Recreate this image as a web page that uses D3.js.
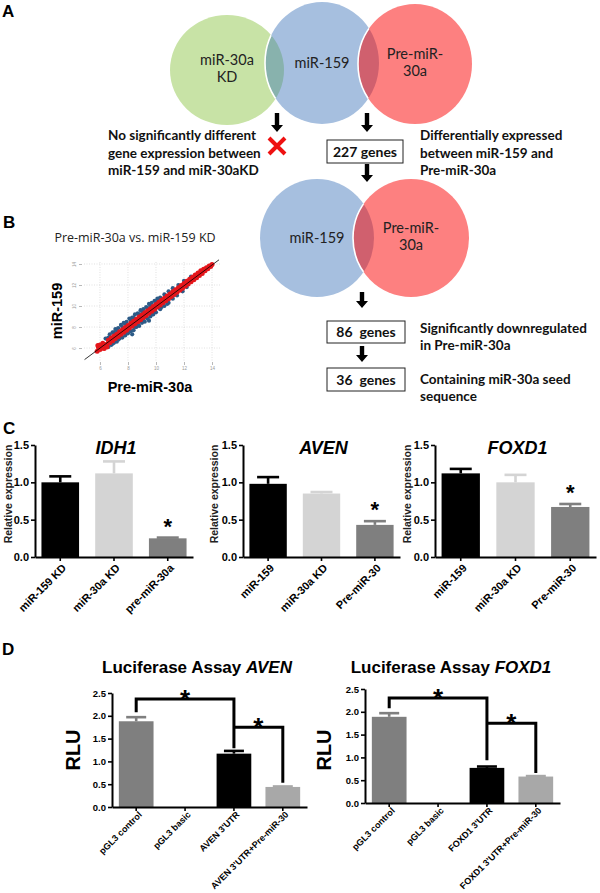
<!DOCTYPE html>
<html><head><meta charset="utf-8">
<script src="https://cdn.jsdelivr.net/npm/d3@7"></script>
<style>body{margin:0;background:#fff}svg{display:block}</style>
</head><body>
<svg id="fig" width="600" height="893"></svg>
<script>
// ---------------- DATA ----------------
const vennTopLabels = [["miR-30a","KD"],["miR-159"],["Pre-miR-","30a"]];
const vennBottomLabels = [["miR-159"],["Pre-miR-","30a"]];
const geneCounts = ["227 genes","86  genes","36  genes"];
const leftNote = ["No significantly different","gene expression between","miR-159 and miR-30aKD"];
const rightNote1 = ["Differentially expressed","between miR-159 and","Pre-miR-30a"];
const rightNote2 = ["Significantly downregulated","in Pre-miR-30a"];
const rightNote3 = ["Containing miR-30a seed","sequence"];

const scatterTitle = "Pre-miR-30a vs. miR-159 KD";
const scatterTicks = [6,8,10,12,14];
const diagLine = [[4.9,4.9],[14.5,14.4]];
const scatterBlue = [
 [6.4,6.9],[6.7,7.3],[6.9,7.5],[7.1,7.8],[7.3,7.9],[7.5,8.2],[7.7,8.4],[7.9,8.5],[8.1,8.8],[8.3,8.9],
 [8.5,9.2],[8.7,9.3],[8.9,9.6],[9.1,9.7],[9.3,9.9],[9.5,10.2],[9.7,10.3],[9.9,10.5],[10.1,10.7],[10.3,10.8],
 [10.6,11.1],[10.9,11.4],[11.2,11.7],[11.6,12.0],[12.0,12.4],[12.5,12.8],[7.0,7.5],[7.6,8.0],[8.2,8.6],[8.8,9.2],
 [9.4,9.8],[10.0,10.4],[10.7,11.0],[6.6,7.0],[7.2,7.7],[7.8,8.3],[8.4,8.9],[9.0,9.5],[9.6,10.0],[10.2,10.6],
 [6.6,6.1],[6.8,6.3],[7.0,6.5],[7.2,6.6],[7.4,6.9],[7.6,7.0],[7.8,7.2],[8.0,7.4],[8.2,7.6],[8.4,7.7],
 [8.6,8.0],[8.8,8.1],[9.0,8.4],[9.2,8.5],[9.4,8.8],[9.6,9.0],[9.8,9.2],[10.0,9.4],[10.3,9.7],[10.6,10.0],
 [10.9,10.3],[11.2,10.7],[11.5,11.0],[11.9,11.4],[7.3,6.8],[7.9,7.4],[8.5,8.0],[9.1,8.6],[9.7,9.2],[10.4,9.9],
 [9.5,8.6],[8.3,7.3],[10.8,10.2],[12.2,11.8],[6.9,6.4],[7.5,7.1],[8.1,7.7],[8.7,8.3],[9.3,8.9],[9.9,9.5]
];
const scatterRed = [
 [5.8,5.7],[5.85,6.25],[5.9,6.05],[6.0,5.85],[6.0,6.3],[6.1,6.25],[6.2,6.0],[6.2,6.45],[6.3,6.2],[6.3,5.95],
 [6.4,6.3],[6.5,6.35],[6.5,6.1],[6.6,6.75],[6.7,6.5],[6.8,6.95],[6.9,6.7],[7.0,7.15],[7.1,6.9],[7.2,7.3],
 [7.3,7.1],[7.4,7.55],[7.5,7.3],[7.6,7.75],[7.7,7.5],[7.8,7.95],[7.9,7.7],[8.0,8.15],[8.1,7.9],[8.2,8.35],
 [8.3,8.1],[8.4,8.55],[8.5,8.3],[8.6,8.75],[8.7,8.5],[8.8,8.95],[8.9,8.7],[9.0,9.15],[9.1,8.9],[9.2,9.35],
 [9.3,9.1],[9.4,9.55],[9.5,9.3],[9.6,9.75],[9.7,9.5],[9.8,9.95],[9.9,9.7],[10.0,10.15],[10.1,9.9],[10.2,10.35],
 [10.3,10.1],[10.4,10.55],[10.5,10.3],[10.6,10.75],[10.7,10.5],[10.8,10.95],[10.9,10.7],[11.0,11.15],[11.1,10.9],[11.2,11.35],
 [11.3,11.1],[11.4,11.55],[11.5,11.3],[11.6,11.75],[11.7,11.5],[11.8,11.95],[11.9,11.7],[12.0,12.15],[12.1,11.9],[12.2,12.35],
 [12.3,12.1],[12.4,12.55],[12.5,12.3],[12.6,12.75],[12.7,12.5],[12.8,12.95],[12.9,12.7],[13.0,13.15],[13.1,12.9],[13.2,13.35],
 [13.3,13.1],[13.4,13.5],[13.5,13.35],[13.6,13.65],[13.7,13.55],[13.8,13.8],[13.9,13.75],[14.0,13.95],
 [7.0,7.0],[8.0,8.0],[9.0,9.0],[10.0,10.0],[11.0,11.0],[12.0,12.0],[13.0,13.0],[7.5,7.5],[8.5,8.5],[9.5,9.5],[10.5,10.5],[11.5,11.5],[12.5,12.5]
];

const relTicks = [0, 0.5, 1.0, 1.5];
const idh1Cats = ["miR-159 KD","miR-30a KD","pre-miR-30a"];
const idh1Vals = [1.00, 1.12, 0.25];
const idh1Errs = [1.08, 1.28, 0.26];
const avenCats = ["miR-159","miR-30a KD","Pre-miR-30"];
const avenVals = [0.98, 0.85, 0.43];
const avenErrs = [1.07, 0.87, 0.48];
const foxd1Cats = ["miR-159","miR-30a KD","Pre-miR-30"];
const foxd1Vals = [1.12, 1.00, 0.67];
const foxd1Errs = [1.18, 1.10, 0.71];
const qpcrSig = [false, false, true];

const rluTicks = [0, 0.5, 1.0, 1.5, 2.0, 2.5];
const lucAvenCats = ["pGL3 control","pGL3 basic","AVEN 3'UTR","AVEN 3'UTR+Pre-miR-30"];
const lucAvenVals = [1.88, 0, 1.17, 0.44];
const lucAvenErrs = [1.97, 0, 1.23, 0.45];
const lucAvenBrackets = [[0,2,2.08,2.37,1.29],[2,3,null,1.75,0.53]];
const lucFoxCats = ["pGL3 control","pGL3 basic","FOXD1 3'UTR","FOXD1 3'UTR+Pre-miR-30"];
const lucFoxVals = [1.89, 0, 0.77, 0.58];
const lucFoxErrs = [1.97, 0, 0.80, 0.59];
const lucFoxBrackets = [[0,2,2.08,2.30,0.94],[2,3,null,1.75,0.66]];

// ---------------- DRAW ----------------
const svg = d3.select("#fig");
const AR = "Liberation Sans, Arial, sans-serif";
const LA = "Lato, Carlito, sans-serif";
const defs = svg.append("defs");

function panelLetter(t, x, y){
  svg.append("text").attr("x",x).attr("y",y).text(t)
    .attr("font-family",AR).attr("font-weight","bold").attr("font-size",17);
}
panelLetter("A",2,17); panelLetter("B",3,228); panelLetter("C",3,434); panelLetter("D",2,655);

// ---- Venn helper
let clipId = 0;
function ellipse(sel, e){ return sel.append("ellipse").attr("cx",e.cx).attr("cy",e.cy).attr("rx",e.rx).attr("ry",e.ry); }
function clipOf(e){
  const id = "clip"+(clipId++);
  ellipse(defs.append("clipPath").attr("id",id), e);
  return "url(#"+id+")";
}
function venn(sets, colors, lensColors, labels){
  sets.forEach((e,i)=> ellipse(svg, e).attr("fill", colors[i]));
  for(let i=1;i<sets.length;i++){
    ellipse(svg, sets[i]).attr("fill", lensColors[i-1]).attr("clip-path", clipOf(sets[i-1]));
    ellipse(svg, sets[i]).attr("fill","none").attr("stroke","#fff").attr("stroke-width",1.6).attr("clip-path", clipOf(sets[i-1]));
  }
  sets.forEach((e,i)=>{
    const lines = labels[i];
    lines.forEach((l,j)=> svg.append("text").attr("font-family",LA).attr("font-size",14.5).attr("fill","#222")
      .attr("text-anchor","middle").attr("x",e.cx).attr("y", e.cy + (lines.length===1?5: (j===0?-5:12))).text(l));
  });
}
venn([{cx:227,cy:70,rx:57,ry:55},{cx:322,cy:63,rx:57,ry:61},{cx:415,cy:64,rx:57,ry:60}],
     ["#c8e3a6","#a6bfdf","#fd8080"],["#88b2ad","#d0606e"], vennTopLabels);
venn([{cx:317,cy:238,rx:57,ry:59},{cx:411,cy:238,rx:58,ry:59}],
     ["#a6bfdf","#fd8080"],["#d0606e"], vennBottomLabels);

function arrow(x, y0, y1){
  const hw=6, sw=2.2, hh=7;
  svg.append("path").attr("d",`M${x-sw},${y0}L${x+sw},${y0}L${x+sw},${y1-hh}L${x+hw},${y1-hh}L${x},${y1}L${x-hw},${y1-hh}L${x-sw},${y1-hh}Z`).attr("fill","#000");
}
arrow(277,113,132); arrow(367,113,132); arrow(367,164,182); arrow(362,292,308); arrow(362,346,362);
// red X
svg.append("path").attr("d","M269,138L285,154M285,138L269,154").attr("stroke","#ee1111").attr("stroke-width",4);

function note(lines, x, y0, dy){
  lines.forEach((l,j)=> svg.append("text").attr("font-family",LA).attr("font-weight","bold").attr("font-size",13.5).attr("fill","#111")
    .attr("x",x).attr("y",y0+j*dy).text(l));
}
note(leftNote,108,140,17.5); note(rightNote1,420,140,17.5); note(rightNote2,420,333,16.5); note(rightNote3,420,384,17);

function box(label, x, y, w, h){
  svg.append("rect").attr("x",x).attr("y",y).attr("width",w).attr("height",h).attr("fill","#fff").attr("stroke","#222").attr("stroke-width",1);
  svg.append("text").attr("x",x+w/2).attr("y",y+h/2+5).attr("text-anchor","middle").attr("font-family",LA).attr("font-weight","bold").attr("font-size",14).attr("fill","#111").attr("xml:space","preserve").text(label);
}
box(geneCounts[0],327,140,76,23); box(geneCounts[1],327,321,78,22); box(geneCounts[2],327,368,78,23);

// ---- Panel B scatter
(function(){
  const x = d3.scaleLinear().domain([4.86,14.57]).range([84,220]);
  const y = d3.scaleLinear().domain([4.67,14.19]).range([362,262]);
  const g = svg.append("g");
  svg.append("text").attr("x",135).attr("y",242).attr("text-anchor","middle").attr("font-family","Open Sans, sans-serif").attr("font-size",12.5).attr("fill","#222").text(scatterTitle);
  g.selectAll(".gx").data(scatterTicks).join("line").attr("x1",d=>x(d)).attr("x2",d=>x(d)).attr("y1",262).attr("y2",362)
    .attr("stroke","#ccc").attr("stroke-width",0.6).attr("stroke-dasharray","1,1.5");
  g.selectAll(".gy").data(scatterTicks).join("line").attr("y1",d=>y(d)).attr("y2",d=>y(d)).attr("x1",84).attr("x2",220)
    .attr("stroke","#ccc").attr("stroke-width",0.6).attr("stroke-dasharray","1,1.5");
  const ax = g.append("g").attr("transform","translate(0,362)").call(d3.axisBottom(x).tickValues(scatterTicks).tickSize(3).tickPadding(2));
  const ay = g.append("g").attr("transform","translate(82,0)").call(d3.axisLeft(y).tickValues(scatterTicks).tickSize(3).tickPadding(3));
  [ax,ay].forEach(a=>{ a.select(".domain").remove(); a.selectAll("line").attr("stroke","#888").attr("stroke-width",0.6);
    a.selectAll("text").attr("font-size",4.5).attr("fill","#999").attr("font-family",AR); });
  ay.selectAll("text").attr("transform","rotate(-90,-7,0)").attr("text-anchor","middle").attr("x",-7).attr("dy","0.32em");
  g.selectAll(".b").data(scatterBlue).join("circle").attr("cx",d=>x(d[0])).attr("cy",d=>y(d[1])).attr("r",2.1).attr("fill","#2d5b87");
  g.selectAll(".r").data(scatterRed).join("circle").attr("cx",d=>x(d[0])).attr("cy",d=>y(d[1])).attr("r",2.5).attr("fill","#e5161b");
  g.append("path").datum(diagLine).attr("d",d3.line().x(d=>x(d[0])).y(d=>y(d[1]))).attr("stroke","#000").attr("stroke-width",0.8).attr("fill","none");
  svg.append("text").attr("transform","translate(62,311) rotate(-90)").attr("text-anchor","middle").attr("font-family",AR).attr("font-weight","bold").attr("font-size",14.5).text("miR-159");
  svg.append("text").attr("x",150).attr("y",392).attr("text-anchor","middle").attr("font-family",AR).attr("font-weight","bold").attr("font-size",14.5).text("Pre-miR-30a");
})();

// ---- Bar chart helper
function barChart(c){
  const g = svg.append("g");
  const x = d3.scaleBand().domain(c.cats).range([c.x0,c.x1]).paddingInner(c.pi).paddingOuter(c.po);
  const y = d3.scaleLinear().domain([0,c.yMax]).range([c.yB,c.yT]);
  const bw = x.bandwidth();
  g.selectAll(".bar").data(c.vals).join("rect")
    .attr("x",(d,i)=>x(c.cats[i])).attr("width",bw).attr("y",d=>y(d)).attr("height",d=>c.yB-y(d)).attr("fill",(d,i)=>c.colors[i]);
  c.errs.forEach((e,i)=>{
    if(c.vals[i]<=0) return;
    const cx = x(c.cats[i])+bw/2;
    g.append("line").attr("x1",cx).attr("x2",cx).attr("y1",y(c.vals[i])).attr("y2",y(e)).attr("stroke",c.colors[i]).attr("stroke-width",c.ew);
    g.append("line").attr("x1",cx-c.cap).attr("x2",cx+c.cap).attr("y1",y(e)).attr("y2",y(e)).attr("stroke",c.colors[i]).attr("stroke-width",c.ew);
  });
  const ya = g.append("g").attr("transform",`translate(${c.x0},0)`)
    .call(d3.axisLeft(y).tickValues(c.ticks).tickFormat(d3.format(".1f")).tickSize(4).tickSizeOuter(0).tickPadding(2));
  const xa = g.append("g").attr("transform",`translate(0,${c.yB})`)
    .call(d3.axisBottom(x).tickSize(4).tickSizeOuter(0).tickFormat(""));
  [ya,xa].forEach(a=>{ a.select(".domain").attr("stroke","#000").attr("stroke-width",c.aw);
    a.selectAll(".tick line").attr("stroke","#000").attr("stroke-width",c.aw*0.8); });
  ya.selectAll("text").attr("font-family",AR).attr("font-weight","bold").attr("font-size",c.tickFs).attr("fill","#000");
  c.cats.forEach(cat=>{
    g.append("text").attr("transform",`translate(${x(cat)+bw/2+c.lx},${c.yB+c.ly}) rotate(-45)`)
      .attr("text-anchor","end").attr("dy","0.35em").attr("font-family",AR).attr("font-weight","bold").attr("font-size",c.labFs).text(cat);
  });
  return {g,x,y,bw};
}

// ---- Panel C
const qColors = ["#000000","#d4d4d4","#7f7f7f"];
function qpcr(title, cats, vals, errs, x0, x1, yLabX){
  const r = barChart({cats,vals,errs,x0,x1,yB:557,yT:445,yMax:1.5,pi:0.3,po:0.12,colors:qColors,ew:2.6,cap:11,
    ticks:relTicks,aw:2,tickFs:11,labFs:11,lx:4,ly:9});
  svg.append("text").attr("x",(x0+x1)/2+2).attr("y",454).attr("text-anchor","middle").attr("font-family",AR)
    .attr("font-weight","bold").attr("font-style","italic").attr("font-size",18).text(title);
  svg.append("text").attr("transform",`translate(${yLabX},494) rotate(-90)`).attr("text-anchor","middle")
    .attr("font-family",AR).attr("font-weight","bold").attr("font-size",10.5).attr("fill","#222").text("Relative expression");
  vals.forEach((v,i)=>{ if(qpcrSig[i]) svg.append("text").attr("x",r.x(cats[i])+r.bw/2).attr("y",r.y(errs[i])-4)
    .attr("text-anchor","middle").attr("font-family",AR).attr("font-weight","bold").attr("font-size",22).text("*"); });
}
qpcr("IDH1", idh1Cats, idh1Vals, idh1Errs, 35, 193, 12);
qpcr("AVEN", avenCats, avenVals, avenErrs, 243, 400, 218);
qpcr("FOXD1", foxd1Cats, foxd1Vals, foxd1Errs, 435, 596, 411);

// ---- Panel D
const lColors = ["#7f7f7f","#7f7f7f","#000000","#a8a8a8"];
function luc(gene, cats, vals, errs, brackets, x0, x1, yB, titleX, rluX){
  const r = barChart({cats,vals,errs,x0,x1,yB,yT:yB-114,yMax:2.5,pi:0.29,po:0.14,colors:lColors,ew:2.6,cap:10,
    ticks:rluTicks,aw:2,tickFs:9.5,labFs:9,lx:4,ly:6});
  const t = svg.append("text").attr("x",titleX).attr("y",673).attr("text-anchor","middle").attr("font-family",AR).attr("font-weight","bold").attr("font-size",17);
  t.append("tspan").text("Luciferase Assay ");
  t.append("tspan").attr("font-style","italic").text(gene);
  svg.append("text").attr("transform",`translate(${rluX},750) rotate(-90)`).attr("text-anchor","middle")
    .attr("font-family",AR).attr("font-weight","bold").attr("font-size",20).text("RLU");
  brackets.forEach(b=>{
    const xa = r.x(cats[b[0]])+r.bw/2, xb = r.x(cats[b[1]])+r.bw/2;
    const ya = b[2]===null ? r.y(b[3]) : r.y(b[2]);
    svg.append("path").attr("d",`M${xa},${ya}L${xa},${r.y(b[3])}L${xb},${r.y(b[3])}L${xb},${r.y(b[4])}`)
      .attr("fill","none").attr("stroke","#000").attr("stroke-width",3);
    svg.append("text").attr("x",(xa+xb)/2).attr("y",r.y(b[3])+9).attr("text-anchor","middle").attr("font-family",AR)
      .attr("font-weight","bold").attr("font-size",26).text("*");
  });
}
luc("AVEN", lucAvenCats, lucAvenVals, lucAvenErrs, lucAvenBrackets, 112, 307, 807, 197, 80);
luc("FOXD1", lucFoxCats, lucFoxVals, lucFoxErrs, lucFoxBrackets, 365, 560, 803, 451, 331);
</script>
</body></html>
